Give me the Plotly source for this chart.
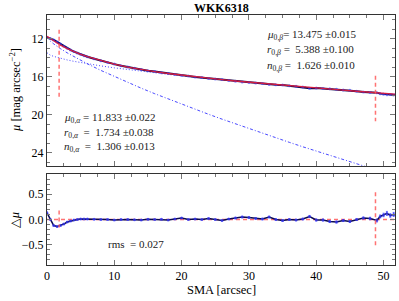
import plotly.graph_objects as go

# ---------------- data ----------------
sma_model = [0, 0.5, 1, 1.5, 2, 3, 4, 5, 6, 8, 10, 12, 14, 16, 18, 20, 22, 24, 26,
             28, 30, 32, 34, 36, 38, 40, 42, 44, 46, 48, 50, 52]
mu_model = [11.74, 11.98, 12.24, 12.47, 12.68, 13.04, 13.36, 13.64, 13.89, 14.32,
            14.68, 14.98, 15.24, 15.46, 15.66, 15.84, 16.01, 16.16, 16.31, 16.45,
            16.58, 16.71, 16.84, 16.96, 17.08, 17.20, 17.31, 17.42, 17.53, 17.64,
            17.75, 17.85]
mu_alpha = [11.833, 12.252, 12.545, 12.805, 13.044, 13.485, 13.892, 14.276, 14.642,
            15.334, 15.986, 16.608, 17.207, 17.786, 18.347, 18.894, 19.429, 19.953,
            20.466, 20.970, 21.466, 21.953, 22.435, 22.909, 23.377, 23.840, 24.297,
            24.748, 25.196, 25.639, 26.077, 26.50]
mu_beta = [13.475, 13.727, 13.860, 13.970, 14.065, 14.232, 14.379, 14.512, 14.635,
           14.860, 15.063, 15.251, 15.428, 15.596, 15.755, 15.907, 16.054, 16.196,
           16.333, 16.466, 16.596, 16.723, 16.846, 16.967, 17.085, 17.200, 17.314,
           17.425, 17.535, 17.642, 17.749, 17.853]

sma_obs = [0, 0.5, 1, 1.5, 2, 2.5, 3, 3.5, 4, 4.5, 5, 5.5, 6, 7, 8, 9, 10, 11, 12,
           13, 14, 15, 16, 17, 18, 19, 20, 21, 22, 23, 24, 25, 26, 27, 28, 29, 30,
           31, 32, 33, 34, 35, 36, 37, 38, 39, 40, 41, 42, 43, 44, 45, 46, 47, 48,
           49, 49.5, 50, 50.5, 51, 51.5, 52]
mu_obs = [11.87, 11.98, 12.12, 12.33, 12.56, 12.78, 12.99, 13.18, 13.35, 13.50,
          13.65, 13.78, 13.90, 14.115, 14.32, 14.51, 14.67, 14.835, 14.98, 15.11,
          15.23, 15.36, 15.46, 15.568, 15.65, 15.763, 15.87, 15.928, 16.02, 16.087,
          16.18, 16.237, 16.29, 16.392, 16.48, 16.567, 16.62, 16.666, 16.72, 16.826,
          16.84, 16.881, 16.96, 17.011, 17.09, 17.20, 17.19, 17.245, 17.27, 17.315,
          17.40, 17.435, 17.53, 17.615, 17.66, 17.675, 17.78, 17.84, 17.895, 17.88,
          17.925, 17.94]
resid = [0.13, 0.0, -0.12, -0.14, -0.12, -0.09, -0.05, -0.03, -0.01, 0.0, 0.01,
         0.01, 0.01, 0.005, 0.0, 0.0, -0.01, 0.0, 0.0, -0.005, -0.01, 0.005, 0.0,
         0.005, -0.01, 0.01, 0.03, 0.0, 0.01, 0.0, 0.02, 0.0, -0.02, 0.01, 0.03,
         0.05, 0.04, 0.02, 0.01, 0.05, 0.0, -0.02, 0.0, -0.01, 0.01, 0.06, -0.01,
         -0.01, -0.04, -0.05, -0.02, -0.04, 0.0, 0.03, 0.02, -0.02, 0.06, 0.09,
         0.12, 0.08, 0.10, 0.09]
resid_err = [0.02, 0.01, 0.01, 0.01, 0.01, 0.01, 0.01, 0.01, 0.01, 0.01, 0.01,
             0.01, 0.01, 0.01, 0.01, 0.01, 0.01, 0.01, 0.01, 0.01, 0.01, 0.01, 0.01,
             0.01, 0.01, 0.01, 0.01, 0.01, 0.01, 0.01, 0.01, 0.01, 0.01, 0.01, 0.015,
             0.015, 0.015, 0.015, 0.015, 0.015, 0.015, 0.015, 0.015, 0.015, 0.015,
             0.02, 0.02, 0.02, 0.02, 0.02, 0.02, 0.02, 0.02, 0.02, 0.025, 0.03, 0.03,
             0.035, 0.04, 0.035, 0.04, 0.04]

r_limits = [1.8, 48.8]
top_limit_spans = [[11.06, 18.3], [15.9, 20.7]]
bot_limit_spans = [[0.18, -0.16], [0.54, -0.53]]

title = "WKK6318"
beta_text = ["<i>μ</i><sub>0,<i>β</i></sub>= 13.475 ±0.015",
             "<i>r</i><sub>0,<i>β</i></sub> =  5.388 ±0.100",
             "<i>n</i><sub>0,<i>β</i></sub> =  1.626 ±0.010"]
alpha_text = ["<i>μ</i><sub>0,<i>α</i></sub> = 11.833 ±0.022",
              "<i>r</i><sub>0,<i>α</i></sub>  =  1.734 ±0.038",
              "<i>n</i><sub>0,<i>α</i></sub>  =  1.306 ±0.013"]
rms_text = "rms  = 0.027"

FONT = "Liberation Serif, DejaVu Serif, serif"
RED = "rgba(255,90,90,0.85)"
BLUE = "rgba(40,40,255,0.85)"
NAVY = "#0a0a50"

fig = go.Figure()

# top panel
fig.add_trace(go.Scatter(x=sma_model, y=mu_alpha, mode="lines",
                         line=dict(color=BLUE, width=1, dash="3px,2px,1px,2px"),
                         xaxis="x", yaxis="y"))
fig.add_trace(go.Scatter(x=sma_model, y=mu_beta, mode="lines",
                         line=dict(color=BLUE, width=1, dash="1px,2px"), xaxis="x", yaxis="y"))
fig.add_trace(go.Scatter(x=sma_obs, y=mu_obs, mode="lines+markers",
                         line=dict(color=NAVY, width=2),
                         marker=dict(color="rgba(60,60,255,0.6)", size=3),
                         xaxis="x", yaxis="y"))
fig.add_trace(go.Scatter(x=sma_model, y=mu_model, mode="lines",
                         line=dict(color="rgba(230,30,60,0.9)", width=1.3), xaxis="x", yaxis="y"))
for r, span in zip(r_limits, top_limit_spans):
    fig.add_trace(go.Scatter(x=[r, r], y=span, mode="lines",
                             line=dict(color=RED, width=1.5, dash="4px,3px"),
                             xaxis="x", yaxis="y"))

# bottom panel
fig.add_trace(go.Scatter(x=[0, 52], y=[0, 0], mode="lines",
                         line=dict(color=RED, width=1.5, dash="4px,3px"), xaxis="x2", yaxis="y2"))
fig.add_trace(go.Scatter(x=sma_obs, y=resid, mode="lines+markers",
                         line=dict(color=NAVY, width=1.5),
                         marker=dict(color="rgba(60,60,255,0.7)", size=3),
                         error_y=dict(type="data", array=resid_err, color="rgba(60,60,255,0.7)",
                                      thickness=1, width=1),
                         xaxis="x2", yaxis="y2"))
for r, span in zip(r_limits, bot_limit_spans):
    fig.add_trace(go.Scatter(x=[r, r], y=span, mode="lines",
                             line=dict(color=RED, width=1.5, dash="4px,3px"),
                             xaxis="x2", yaxis="y2"))

axis_common = dict(showline=True, linecolor="#333", linewidth=1, mirror="ticks",
                   ticks="inside", ticklen=5, tickcolor="#777", showgrid=False,
                   zeroline=False, automargin=False,
                   tickfont=dict(family=FONT, size=12, color="black"))
minor_common = dict(ticks="inside", ticklen=3, tickcolor="#777")

fig.update_layout(
    width=399, height=301,
    margin=dict(l=47, r=4, t=15, b=36),
    paper_bgcolor="white", plot_bgcolor="white",
    showlegend=False,
    font=dict(family=FONT, color="black"),
    xaxis=dict(domain=[0, 1], range=[0, 51.7], anchor="y", dtick=10, showticklabels=False,
               minor=dict(dtick=2.5, **minor_common), **axis_common),
    yaxis=dict(domain=[0.396, 1], range=[25.4, 9.5], anchor="x", tickvals=[12, 16, 20, 24],
               minor=dict(dtick=1, **minor_common), **axis_common),
    xaxis2=dict(domain=[0, 1], range=[0, 51.7], anchor="y2", dtick=10,
                minor=dict(dtick=2.5, **minor_common), **axis_common),
    yaxis2=dict(domain=[0, 0.364], range=[-0.9, 0.9], anchor="x2",
                tickvals=[-0.5, 0, 0.5], ticktext=["−0.5", "0.0", "0.5"],
                minor=dict(dtick=0.1, **minor_common), **axis_common),
)

# titles as annotations for exact placement
fig.add_annotation(x=0.5, y=1.028, xref="paper", yref="paper", text="<b>" + title + "</b>",
                   showarrow=False, xanchor="center", yanchor="middle",
                   font=dict(family=FONT, size=12, color="black"))
fig.add_annotation(x=-0.092, y=0.70, xref="paper", yref="paper",
                   text="<i>μ</i> [mag arcsec<sup>−2</sup>]", textangle=-90,
                   showarrow=False, xanchor="center", yanchor="middle",
                   font=dict(family=FONT, size=12.5, color="black"))
fig.add_annotation(x=-0.092, y=0.18, xref="paper", yref="paper",
                   text="△<i>μ</i>", textangle=-90,
                   showarrow=False, xanchor="center", yanchor="middle",
                   font=dict(family=FONT, size=12.5, color="black"))
fig.add_annotation(x=0.5, y=-0.1, xref="paper", yref="paper", text="SMA [arcsec]",
                   showarrow=False, xanchor="center", yanchor="middle",
                   font=dict(family=FONT, size=12.5, color="black"))

ann_font = dict(family=FONT, size=11, color="#222")
beta_y = [11.6, 13.2, 14.85]
for t, yy in zip(beta_text, beta_y):
    fig.add_annotation(x=32.4, y=yy, xref="x", yref="y", text=t, showarrow=False,
                       xanchor="left", yanchor="middle", font=ann_font)
alpha_y = [20.3, 21.95, 23.4]
for t, yy in zip(alpha_text, alpha_y):
    fig.add_annotation(x=2.3, y=yy, xref="x", yref="y", text=t, showarrow=False,
                       xanchor="left", yanchor="middle", font=ann_font)
fig.add_annotation(x=8.8, y=-0.49, xref="x2", yref="y2", text=rms_text, showarrow=False,
                   xanchor="left", yanchor="middle", font=ann_font)

fig.write_html("out.html", config={"displayModeBar": False},
               post_script="document.body.style.margin='0';document.body.style.padding='0';")
